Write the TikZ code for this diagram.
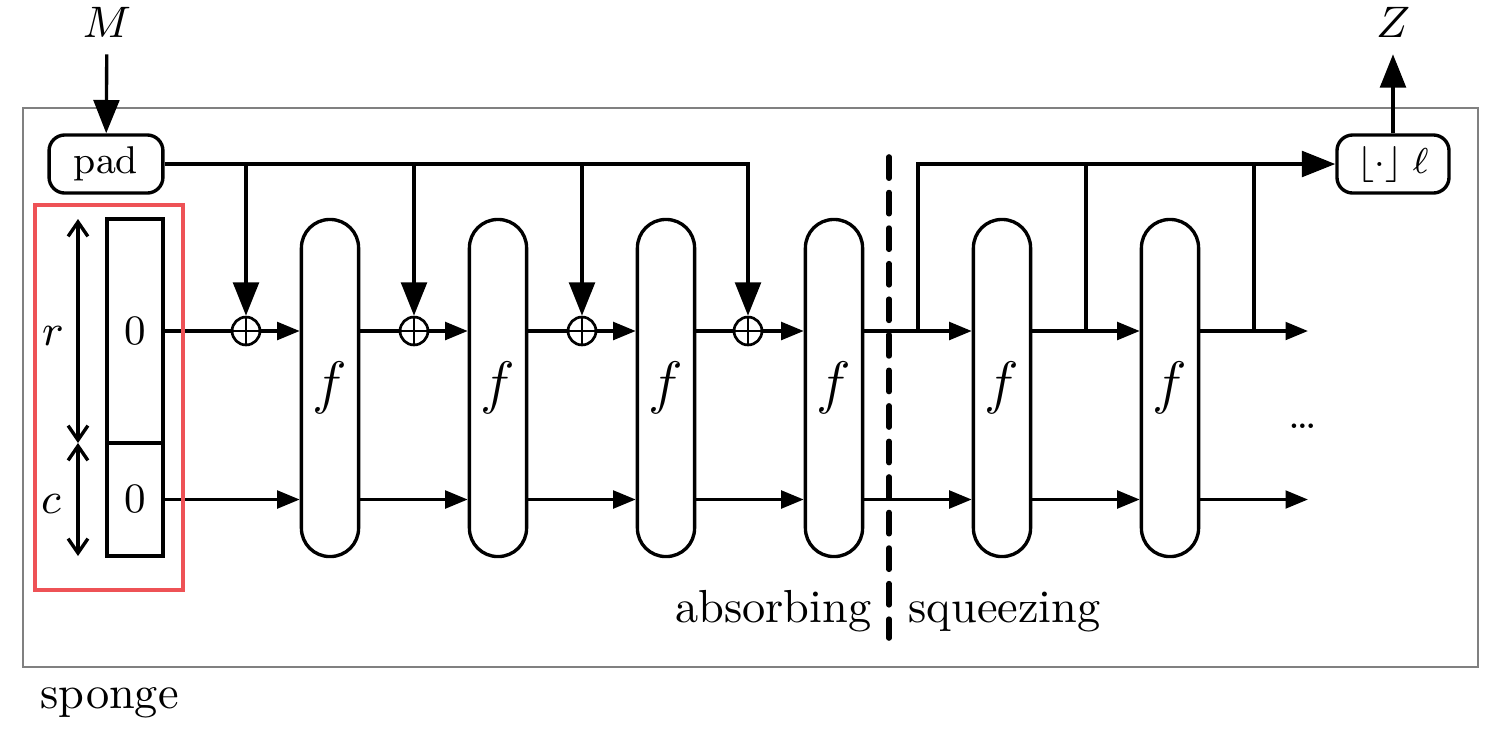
\RequirePackage{fix-cm}
\documentclass[tikz,border=0pt]{standalone}
\usetikzlibrary{arrows.meta}
\definecolor{redbox}{RGB}{238,82,86}
\definecolor{grayframe}{RGB}{128,128,128}
\tikzset{
  BigTri/.tip={Triangle[length=7.4pt,width=5.7pt]},
  SmallTri/.tip={Triangle[length=5pt,width=3.9pt]},
  Barb/.tip={Straight Barb[length=3.2pt,width=4.4pt]},
  fbox/.style={draw, rectangle, rounded corners=6.3pt, minimum width=12.7pt,
    minimum height=74.9pt, inner sep=0pt, font=\fontsize{13}{15}\selectfont},
  xor/.style={draw, circle, minimum size=6.2pt, inner sep=0pt, line width=0.6pt,
    path picture={\draw[line width=0.6pt] (path picture bounding box.north) -- (path picture bounding box.south)
      (path picture bounding box.west) -- (path picture bounding box.east);}},
  roundbox/.style={draw, rectangle, rounded corners=3.5pt, minimum width=25.3pt,
    minimum height=12.9pt, inner sep=0pt},
  cell/.style={draw, rectangle, minimum width=12.4pt, inner sep=0pt,
    font=\fontsize{9.3}{11}\selectfont},
  lab/.style={font=\fontsize{10.3}{12}\selectfont},
  mlab/.style={font=\fontsize{9.8}{11}\selectfont},
}
\begin{document}
\begin{tikzpicture}[x=0.2222pt,y=-0.2222pt,line width=0.75pt]
\useasboundingbox (0,0) rectangle (1497,729);
% frame
\draw[grayframe, line width=0.45pt] (23,108) rectangle (1478,667);
% boxes
\node[roundbox, font=\fontsize{8.6}{10}\selectfont] (pad) at (106,164) {pad};
\node[roundbox, minimum width=24.9pt, font=\fontsize{8}{10}\selectfont] (fl) at (1393,164) {$\lfloor\cdot\rfloor\;\ell$};
\node[mlab] (M) at (107,22.5) {$M$};
\node[mlab] (Z) at (1393,22.5) {$Z$};
\node[cell, minimum height=49.8pt] (rtop) at (135,331) {0};
\node[cell, minimum height=25.1pt] (cbot) at (135,499.5) {0};
\foreach \i/\x in {1/330,2/498,3/666,4/834,5/1002,6/1170}
  \node[fbox] (f\i) at (\x,388) {$f$};
\foreach \i/\x in {1/246,2/414,3/582,4/748}
  \node[xor] (x\i) at (\x,331) {};
\coordinate (s1) at (918,331);
\coordinate (s2) at (1086,331);
\coordinate (s3) at (1254,331);
\coordinate (endA) at (1308,331);
\coordinate (endB) at (1308,499.5);
\coordinate (d1) at (78,219);
\coordinate (d2) at (78,443);
\coordinate (d3) at (78,556);
% input / output
\draw[-BigTri] (M) -- (pad);
\draw[-BigTri] (fl) -- (Z);
% absorbing feed
\draw[-BigTri] (pad) -| (x4);
\foreach \i in {1,2,3}
  \draw[-BigTri] (x\i |- pad.east) -- (x\i);
% rows
\draw (rtop) -- (x1);
\draw[-SmallTri] (x1) -- (x1 -| f1.west);
\foreach \a/\b in {1/2,2/3,3/4} {
  \draw (f\a.east |- x\b) -- (x\b);
  \draw[-SmallTri] (x\b) -- (x\b -| f\b.west);
}
\draw[-SmallTri] (f4.east |- rtop) -- (rtop -| f5.west);
\draw[-SmallTri] (f5.east |- rtop) -- (rtop -| f6.west);
\draw[-SmallTri] (f6.east |- rtop) -- (endA);
\draw[-SmallTri] (cbot) -- (cbot -| f1.west);
\foreach \a/\b in {1/2,2/3,3/4,4/5,5/6}
  \draw[-SmallTri] (f\a.east |- cbot) -- (cbot -| f\b.west);
\draw[-SmallTri] (f6.east |- cbot) -- (endB);
% squeezing output
\draw[-BigTri] (s1) |- (fl);
\draw (s2) -- (s2 |- fl.west);
\draw (s3) -- (s3 |- fl.west);
% dimension arrows
\draw[Barb-Barb] (d1) -- (d2);
\draw[Barb-Barb] (d2) -- (d3);
\node[mlab] (rl) at (53,336) {$r$};
\node[mlab] (cl) at (51,504) {$c$};
% red box
\draw[redbox, line width=0.9pt] (35,205) rectangle (183,590);
% dashed divider
\draw[line width=1.25pt, line cap=round, dash pattern=on 4.7pt off 3.2pt] (889,157) -- (889,638);
% labels
\node[lab, anchor=base east, inner sep=0pt] (abs) at (873,622) {absorbing};
\node[lab, anchor=base west, inner sep=0pt] (sq) at (907,622) {squeezing};
\node[lab, anchor=base west, inner sep=0pt] (sp) at (39,708) {sponge};
\node[font=\fontsize{9.5}{11}\selectfont, anchor=base, inner sep=0pt] (dots) at (1303,428) {\dots};
\end{tikzpicture}
\end{document}
